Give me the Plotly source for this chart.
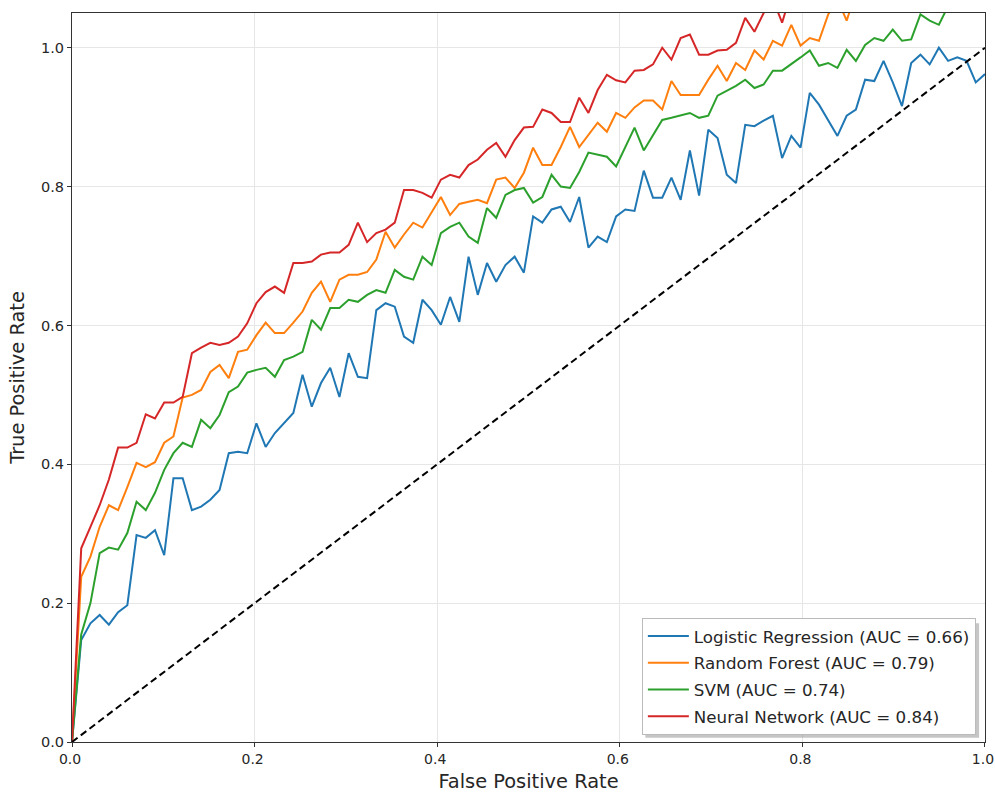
import plotly.graph_objects as go

n_points = 100
fpr = [i / (n_points - 1) for i in range(n_points)]

model_names = ["Logistic Regression", "Random Forest", "SVM", "Neural Network"]
auc_values = [0.66, 0.79, 0.74, 0.84]
colors = ["#1f77b4", "#ff7f0e", "#2ca02c", "#d62728"]

tpr_lr = [0.0, 0.147, 0.171, 0.183, 0.169, 0.187, 0.197, 0.298, 0.294, 0.305,
          0.269, 0.380, 0.380, 0.334, 0.339, 0.349, 0.363, 0.416, 0.418, 0.416,
          0.459, 0.425, 0.445, 0.459, 0.474, 0.529, 0.483, 0.517, 0.539, 0.497,
          0.560, 0.526, 0.524, 0.622, 0.632, 0.627, 0.584, 0.575, 0.637, 0.622,
          0.601, 0.641, 0.605, 0.699, 0.644, 0.690, 0.663, 0.687, 0.699, 0.676,
          0.757, 0.748, 0.767, 0.771, 0.749, 0.785, 0.712, 0.728, 0.720, 0.757,
          0.767, 0.765, 0.823, 0.784, 0.784, 0.813, 0.781, 0.852, 0.787, 0.882,
          0.870, 0.817, 0.805, 0.889, 0.887, 0.895, 0.902, 0.841, 0.873, 0.856,
          0.935, 0.918, 0.896, 0.873, 0.902, 0.911, 0.954, 0.952, 0.981, 0.950,
          0.916, 0.978, 0.990, 0.976, 1.000, 0.981, 0.986, 0.981, 0.950, 0.962]

tpr_rf = [0.0, 0.238, 0.267, 0.310, 0.341, 0.334, 0.367, 0.402, 0.396, 0.403,
          0.431, 0.440, 0.496, 0.500, 0.507, 0.533, 0.543, 0.524, 0.562, 0.565,
          0.586, 0.604, 0.589, 0.589, 0.604, 0.620, 0.647, 0.663, 0.634, 0.666,
          0.673, 0.673, 0.677, 0.695, 0.735, 0.712, 0.731, 0.748, 0.741, 0.764,
          0.785, 0.759, 0.775, 0.778, 0.781, 0.776, 0.810, 0.813, 0.798, 0.820,
          0.856, 0.831, 0.831, 0.857, 0.886, 0.857, 0.875, 0.892, 0.879, 0.906,
          0.899, 0.914, 0.924, 0.924, 0.911, 0.952, 0.932, 0.932, 0.932, 0.954,
          0.974, 0.952, 0.978, 0.968, 0.996, 0.983, 1.010, 1.003, 1.033, 1.003,
          1.014, 1.010, 1.048, 1.070, 1.039, 1.080, 1.090, 1.100, 1.080, 1.110,
          1.120, 1.100, 1.130, 1.140, 1.120, 1.150, 1.160, 1.140, 1.170, 1.180]

tpr_svm = [0.0, 0.155, 0.200, 0.272, 0.280, 0.277, 0.301, 0.346, 0.334, 0.359,
           0.392, 0.416, 0.431, 0.425, 0.464, 0.452, 0.471, 0.504, 0.512, 0.532,
           0.536, 0.539, 0.526, 0.550, 0.555, 0.562, 0.608, 0.594, 0.625, 0.625,
           0.637, 0.634, 0.644, 0.651, 0.647, 0.680, 0.670, 0.666, 0.699, 0.687,
           0.733, 0.742, 0.748, 0.728, 0.719, 0.769, 0.755, 0.788, 0.795, 0.798,
           0.777, 0.785, 0.817, 0.800, 0.798, 0.821, 0.849, 0.846, 0.843, 0.829,
           0.856, 0.885, 0.852, 0.873, 0.896, 0.899, 0.902, 0.906, 0.899, 0.902,
           0.931, 0.938, 0.945, 0.954, 0.942, 0.947, 0.967, 0.967, 0.976, 0.986,
           0.996, 0.974, 0.978, 0.971, 0.997, 0.981, 1.004, 1.014, 1.010, 1.026,
           1.010, 1.012, 1.048, 1.039, 1.033, 1.060, 1.070, 1.080, 1.070, 1.090]

tpr_nn = [0.0, 0.279, 0.310, 0.341, 0.378, 0.424, 0.424, 0.431, 0.472, 0.466,
          0.489, 0.489, 0.497, 0.560, 0.568, 0.575, 0.572, 0.575, 0.584, 0.603,
          0.632, 0.648, 0.656, 0.647, 0.690, 0.690, 0.692, 0.702, 0.705, 0.705,
          0.716, 0.748, 0.720, 0.733, 0.738, 0.748, 0.795, 0.795, 0.791, 0.784,
          0.810, 0.817, 0.813, 0.831, 0.839, 0.853, 0.863, 0.843, 0.867, 0.885,
          0.886, 0.911, 0.906, 0.893, 0.893, 0.928, 0.906, 0.939, 0.961, 0.953,
          0.950, 0.967, 0.968, 0.976, 1.000, 0.983, 1.014, 1.019, 0.990, 0.990,
          0.996, 0.997, 1.007, 1.043, 1.023, 1.050, 1.070, 1.036, 1.080, 1.090,
          1.100, 1.080, 1.110, 1.120, 1.130, 1.110, 1.140, 1.150, 1.130, 1.160,
          1.170, 1.180, 1.160, 1.190, 1.200, 1.190, 1.210, 1.220, 1.230, 1.220]

diag_x = [0.0, 1.0]
diag_y = [0.0, 1.0]

tick_vals = [0.0, 0.2, 0.4, 0.6, 0.8, 1.0]
tick_text = ["0.0", "0.2", "0.4", "0.6", "0.8", "1.0"]

all_tpr = [tpr_lr, tpr_rf, tpr_svm, tpr_nn]

FONT = "DejaVu Sans"
TXT = "#262626"

fig = go.Figure()
for name, auc, col, tpr in zip(model_names, auc_values, colors, all_tpr):
    fig.add_trace(go.Scatter(
        x=fpr, y=tpr, mode="lines",
        name=f"{name} (AUC = {auc:.2f})",
        legendgroup=name,
        line=dict(color=col, width=2),
    ))

fig.add_trace(go.Scatter(
    x=diag_x, y=diag_y, mode="lines", showlegend=False,
    line=dict(color="black", width=2, dash="7px,4px"),
))

axis_common = dict(
    showline=True, linecolor="#333333", linewidth=1, mirror=True,
    ticks="outside", ticklen=4, tickcolor="#333333", tickwidth=1,
    showgrid=True, gridcolor="#e6e6e6", gridwidth=1,
    zeroline=False,
    tickvals=tick_vals, ticktext=tick_text,
    ticklabeloverflow="allow",
    automargin=False,
)

# legend shadow (matplotlib shadow=True look)
fig.add_shape(
    type="rect", xref="paper", yref="paper",
    x0=0.6280, x1=0.9935, y0=0.0060, y1=0.1630,
    line=dict(width=0), fillcolor="rgba(128,128,128,0.45)", layer="above",
)

fig.update_layout(
    width=995, height=794,
    margin=dict(l=72, r=10, t=13, b=52),
    paper_bgcolor="white", plot_bgcolor="white",
    font=dict(family=FONT, color=TXT),
    xaxis=dict(range=[0.0, 1.00001], title=dict(text="False Positive Rate",
               font=dict(family=FONT, size=19.4, color=TXT), standoff=8),
               tickfont=dict(family=FONT, size=14, color=TXT),
               ticklabelshift=-2,
               **axis_common),
    yaxis=dict(range=[0.0, 1.05], title=dict(text="True Positive Rate",
               font=dict(family=FONT, size=19.4, color=TXT), standoff=11),
               tickfont=dict(family=FONT, size=14.5, color=TXT),
               **axis_common),
    legend=dict(
        x=0.99, y=0.0100, xanchor="right", yanchor="bottom",
        bgcolor="rgba(255,255,255,1)", bordercolor="#bbbbbb", borderwidth=1,
        font=dict(family=FONT, size=16.7, color=TXT),
        tracegroupgap=2, itemwidth=41,
    ),
    showlegend=True,
)

fig.write_html("out.html")
